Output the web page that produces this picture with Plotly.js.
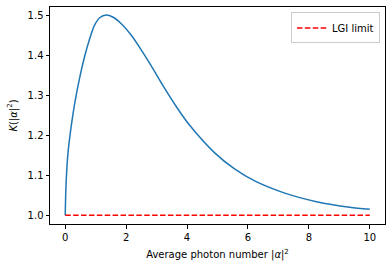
<!DOCTYPE html>
<html>
<head>
<meta charset="utf-8">
<script src="https://cdn.plot.ly/plotly-3.0.1.min.js"></script>
<style>html,body{margin:0;padding:0;background:#fff;}</style>
</head>
<body>
<div id="chart" style="width:392px;height:268px;"></div>
<script>
// Average photon number |alpha|^2
const photonNumber = [0, 0.03, 0.09, 0.2, 0.31, 0.47, 0.63, 0.8, 0.96, 1.13, 1.35, 1.56, 1.84, 2.17, 2.5, 2.83, 3.21, 3.65, 4.08, 4.9, 5.56, 6.22, 7.21, 8.25, 9.34, 10];
// K(|alpha|^2)
const kValues = [1.0, 1.083, 1.155, 1.225, 1.28, 1.343, 1.396, 1.442, 1.476, 1.495, 1.502, 1.497, 1.480, 1.451, 1.414, 1.374, 1.325, 1.272, 1.226, 1.157, 1.116, 1.086, 1.0555, 1.034, 1.020, 1.015];
// LGI limit
const lgiX = [0, 10];
const lgiY = [1, 1];
const xTicks = [0, 2, 4, 6, 8, 10];
const yTicks = [1.0, 1.1, 1.2, 1.3, 1.4, 1.5];

const font = {family: 'DejaVu Sans, sans-serif', size: 10, color: '#000'};

const traces = [
  {x: photonNumber, y: kValues, mode: 'lines', line: {color: '#1f77b4', width: 1.5, shape: 'spline', smoothing: 0.8}, showlegend: false, hoverinfo: 'skip'},
  {x: lgiX, y: lgiY, mode: 'lines', name: 'LGI limit', line: {color: '#ff0000', width: 1.5, dash: '5.5px,2.4px'}, hoverinfo: 'skip'}
];

const axisCommon = {
  showgrid: false, zeroline: false, showline: true, mirror: true,
  linecolor: '#000', linewidth: 1, ticks: 'outside', ticklen: 3.5, tickwidth: 1, tickcolor: '#000',
  tickfont: font, automargin: false
};

const layout = {
  width: 392, height: 268,
  margin: {l: 50, r: 7, t: 7, b: 44},
  paper_bgcolor: '#fff', plot_bgcolor: '#fff',
  font: font,
  xaxis: Object.assign({}, axisCommon, {
    range: [-0.5, 10.5], tickvals: xTicks, ticktext: xTicks.map(String),
    title: {text: 'Average photon number |<i>α</i>|<sup>2</sup>', font: font, standoff: 9}
  }),
  yaxis: Object.assign({}, axisCommon, {
    range: [0.978, 1.522], tickvals: yTicks, ticktext: yTicks.map(v => v.toFixed(1)),
    title: {text: '<i>K</i>(|<i>α</i>|<sup>2</sup>)', font: font, standoff: 8}
  }),
  legend: {
    x: 0.985, y: 0.975, xanchor: 'right', yanchor: 'top',
    bgcolor: 'rgba(255,255,255,0.8)', bordercolor: '#cccccc', borderwidth: 1,
    font: font, itemwidth: 30, tracegroupgap: 0
  }
};

Plotly.newPlot('chart', traces, layout, {staticPlot: true, displayModeBar: false});
</script>
</body>
</html>
